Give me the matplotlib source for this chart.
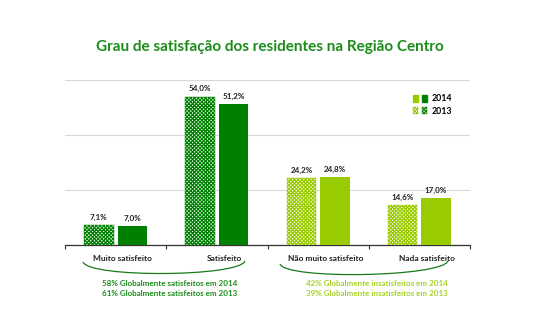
import matplotlib.pyplot as plt
from matplotlib.patches import Rectangle, PathPatch
from matplotlib.path import Path
from matplotlib.legend_handler import HandlerTuple

plt.rcParams['font.family'] = ['Lato', 'DejaVu Sans']
plt.rcParams['hatch.linewidth'] = 0.9

categories = ["Muito satisfeito", "Satisfeito", "Não muito satisfeito", "Nada satisfeito"]
v2013 = [7.1, 54.0, 24.2, 14.6]
v2014 = [7.0, 51.2, 24.8, 17.0]
colors = ["#008000", "#008000", "#99cc00", "#99cc00"]
notes_left = ["58% Globalmente satisfeitos em 2014", "61% Globalmente satisfeitos em 2013"]
notes_right = ["42% Globalmente insatisfeitos em 2014", "39% Globalmente insatisfeitos em 2013"]

W, H = 539, 332
fig = plt.figure(figsize=(W / 100, H / 100), dpi=100)
ax = fig.add_axes([65 / W, 1 - 245 / H, 405 / W, 165 / H])

w = 0.29
off = 0.165
HATCH = "xxxxxxxxx"
for i, (a, b, c) in enumerate(zip(v2013, v2014, colors)):
    x = i + 0.5
    ax.bar(x - off, a, w, facecolor="white", edgecolor=c, hatch=HATCH, linewidth=0.3, zorder=3)
    ax.bar(x + off, b, w, color=c, zorder=3)
    ax.text(x - off, a + 1.5, f"{a:.1f}%".replace(".", ","), ha="center", va="bottom",
            fontsize=5.8, fontweight="bold", color="#222222")
    ax.text(x + off, b + 1.5, f"{b:.1f}%".replace(".", ","), ha="center", va="bottom",
            fontsize=5.8, fontweight="bold", color="#222222")
    ax.text(x + 0.07, -3.8, categories[i], ha="center", va="top", fontsize=6,
            fontweight="bold", color="#222222")

ax.set_xlim(0, 4)
ax.set_ylim(0, 60)
ax.set_yticks([0, 20, 40, 60])
ax.yaxis.grid(True, color="#d9d9d9", linewidth=0.8)
ax.set_axisbelow(True)
ax.tick_params(axis="y", left=False, labelleft=False)
ax.set_xticks([0, 1, 2, 3, 4])
ax.tick_params(axis="x", direction="out", length=3, width=0.8, color="#333333", labelbottom=False)
for s in ["top", "right", "left"]:
    ax.spines[s].set_visible(False)
ax.spines["bottom"].set_color("#333333")
ax.spines["bottom"].set_linewidth(0.9)

# legend
h14 = (Rectangle((0, 0), 1, 1, color="#99cc00"), Rectangle((0, 0), 1, 1, color="#008000"))
h13 = (Rectangle((0, 0), 1, 1, facecolor="white", edgecolor="#99cc00", hatch=HATCH, lw=0.3),
       Rectangle((0, 0), 1, 1, facecolor="white", edgecolor="#008000", hatch=HATCH, lw=0.3))
ax.legend([h14, h13], ["2014", "2013"], handler_map={tuple: HandlerTuple(ndivide=None, pad=0.5)},
          loc="upper right", bbox_to_anchor=(0.975, 0.96), frameon=False,
          prop={"size": 6.3, "weight": "bold"}, handlelength=1.6, handleheight=0.8,
          handletextpad=0.5, labelspacing=0.35)

# title
fig.text(270 / W, 1 - 47 / H, "Grau de satisfação dos residentes na Região Centro",
         ha="center", va="center", fontsize=11, fontweight="bold", color="#1a8c1a")


def arc(x0, x1, y0, y1, depth, color):
    # lower half of a rounded bracket, pixel coordinates
    pts = [(x0, y0), (x0 + 6, y0 + depth), (x1 - 6, y1 + depth), (x1, y1)]
    pts = [(px / W, 1 - py / H) for px, py in pts]
    p = Path(pts, [Path.MOVETO, Path.CURVE4, Path.CURVE4, Path.CURVE4])
    fig.add_artist(PathPatch(p, transform=fig.transFigure, fill=False, edgecolor=color, lw=0.9))


arc(83, 245, 262, 261, 16, "#1a7a1a")
arc(280, 448, 264, 261, 16, "#1a7a1a")

for k, t in enumerate(notes_left):
    fig.text(170 / W, 1 - (284 + 10 * k) / H, t, ha="center", va="center", fontsize=5.8,
             fontweight="bold", color="#1a8c1a")
for k, t in enumerate(notes_right):
    fig.text(377 / W, 1 - (284 + 10 * k) / H, t, ha="center", va="center", fontsize=5.8,
             fontweight="bold", color="#a6d12a")

fig.savefig("out.png", dpi=100)
